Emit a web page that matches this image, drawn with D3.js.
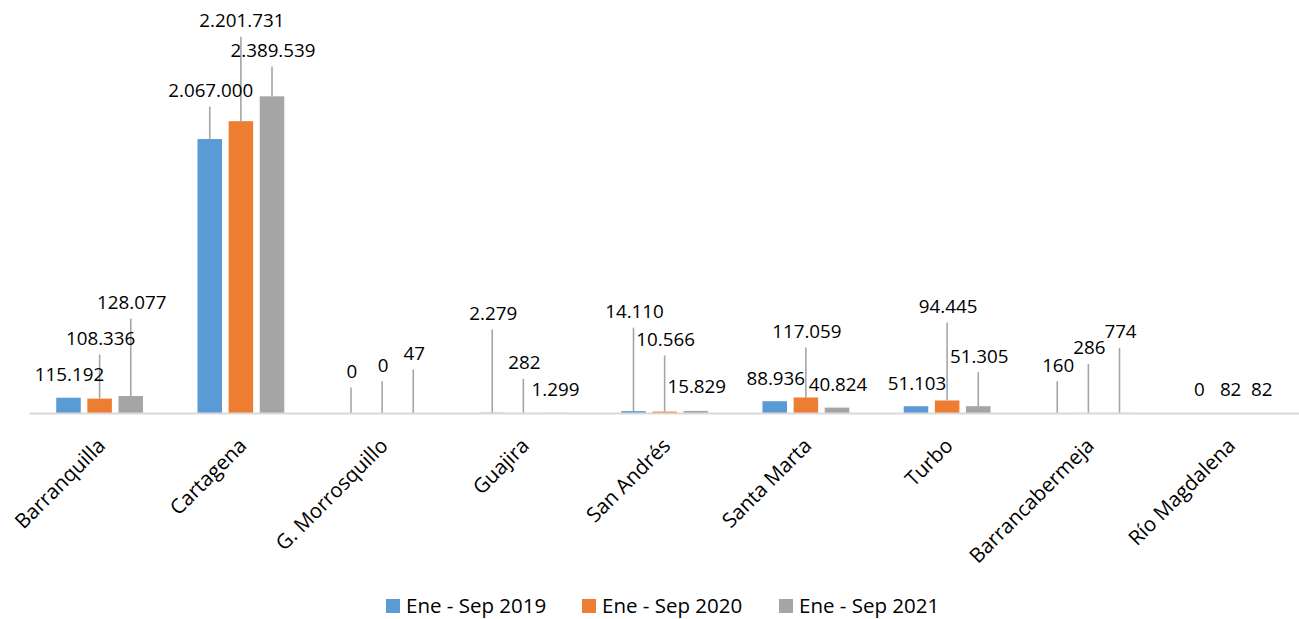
<!DOCTYPE html>
<html>
<head>
<meta charset="utf-8">
<script src="https://cdn.jsdelivr.net/npm/d3@7/dist/d3.min.js"></script>
<style>
  html, body { margin: 0; padding: 0; background: #fff; }
  svg { display: block; font-family: "Open Sans", "Noto Sans", sans-serif; }
</style>
</head>
<body>
<svg id="chart" width="1299" height="619"></svg>
<script>
// ---- data ----
const categories = ["Barranquilla", "Cartagena", "G. Morrosquillo", "Guajira", "San Andrés",
                    "Santa Marta", "Turbo", "Barrancabermeja", "Río Magdalena"];
const seriesNames = ["Ene - Sep 2019", "Ene - Sep 2020", "Ene - Sep 2021"];
const values2019 = [115192, 2067000, 0, 2279, 14110, 88936, 51103, 160, 0];
const values2020 = [108336, 2201731, 0, 282, 10566, 117059, 94445, 286, 82];
const values2021 = [128077, 2389539, 47, 1299, 15829, 40824, 51305, 774, 82];
const seriesValues = [values2019, values2020, values2021];

// label lift above bar top (layout, px), per series
const lift2019 = [16.7, 42, 35, 92.7, 93, 16.2, 16.2, 41.3, 17];
const lift2020 = [53.6, 94, 41.3, 43.7, 65.6, 59.5, 87.5, 58.5, 17];
const lift2021 = [87, 39.3, 53, 16.8, 17.6, 16.6, 43.5, 74.6, 17];
const lifts = [lift2019, lift2020, lift2021];

const colors = ["#5B9BD5", "#ED7D31", "#A5A5A5"];

// ---- layout ----
const svg = d3.select("#chart");
const baseY = 413;
const x0 = d3.scaleBand().domain(categories).range([29, 1300.25]).paddingInner(0).paddingOuter(0);
const bw = x0.bandwidth();
const x1 = d3.scaleBand().domain(seriesNames).range([bw / 2 - 43.4, bw / 2 + 43.4]).paddingInner(0.212).paddingOuter(0);
const y = d3.scaleLinear().domain([0, 2500000]).range([baseY, baseY - 2500000 / 7545]);

const fmt = v => d3.format(",")(v).replace(/,/g, ".");

// bars
const groups = svg.append("g").selectAll("g")
  .data(categories).join("g")
  .attr("transform", d => `translate(${x0(d)},0)`);

const barData = (c, ci) => seriesNames.map((s, si) => ({ s, si, ci, v: seriesValues[si][ci] }));

groups.selectAll("rect")
  .data((c, ci) => barData(c, ci)).join("rect")
  .attr("x", d => x1(d.s))
  .attr("width", x1.bandwidth())
  .attr("y", d => y(d.v))
  .attr("height", d => baseY - y(d.v))
  .attr("fill", d => colors[d.si]);

// axis line
const xAxis = d3.axisBottom(x0).tickSize(0).tickFormat("");
const axG = svg.append("g").attr("transform", `translate(0,${baseY})`).call(xAxis);
axG.select(".domain").attr("stroke", "#D9D9D9").attr("stroke-width", 2);

// leader lines and labels
groups.selectAll("line.leader")
  .data((c, ci) => barData(c, ci).filter(d => lifts[d.si][d.ci] > 25)).join("line")
  .attr("class", "leader")
  .attr("x1", d => x1(d.s) + x1.bandwidth() / 2)
  .attr("x2", d => x1(d.s) + x1.bandwidth() / 2)
  .attr("y1", d => y(d.v) - lifts[d.si][d.ci] + 9.5)
  .attr("y2", d => y(d.v))
  .attr("stroke", "#A6A6A6")
  .attr("stroke-width", 1.6);

groups.selectAll("text.lbl")
  .data((c, ci) => barData(c, ci)).join("text")
  .attr("class", "lbl")
  .attr("x", d => x1(d.s) + x1.bandwidth() / 2 + 1)
  .attr("y", d => y(d.v) - lifts[d.si][d.ci])
  .attr("text-anchor", "middle")
  .attr("font-size", "18.8px")
  .attr("fill", "#000")
  .text(d => fmt(d.v));

// category labels
svg.append("g").selectAll("text")
  .data(categories).join("text")
  .attr("transform", d => `translate(${x0(d) + bw / 2 + 7},447) rotate(-45)`)
  .attr("text-anchor", "end")
  .attr("font-size", "20.5px")
  .attr("fill", "#000")
  .text(d => d);

// legend
const legendX = [386, 582, 779];
const lg = svg.append("g").selectAll("g")
  .data(seriesNames).join("g")
  .attr("transform", (d, i) => `translate(${legendX[i]},0)`);
lg.append("rect").attr("x", 0).attr("y", 599).attr("width", 14).attr("height", 14)
  .attr("fill", (d, i) => colors[i]);
lg.append("text").attr("x", 20).attr("y", 613)
  .attr("font-size", "20.5px").attr("fill", "#000")
  .text(d => d);
</script>
</body>
</html>
